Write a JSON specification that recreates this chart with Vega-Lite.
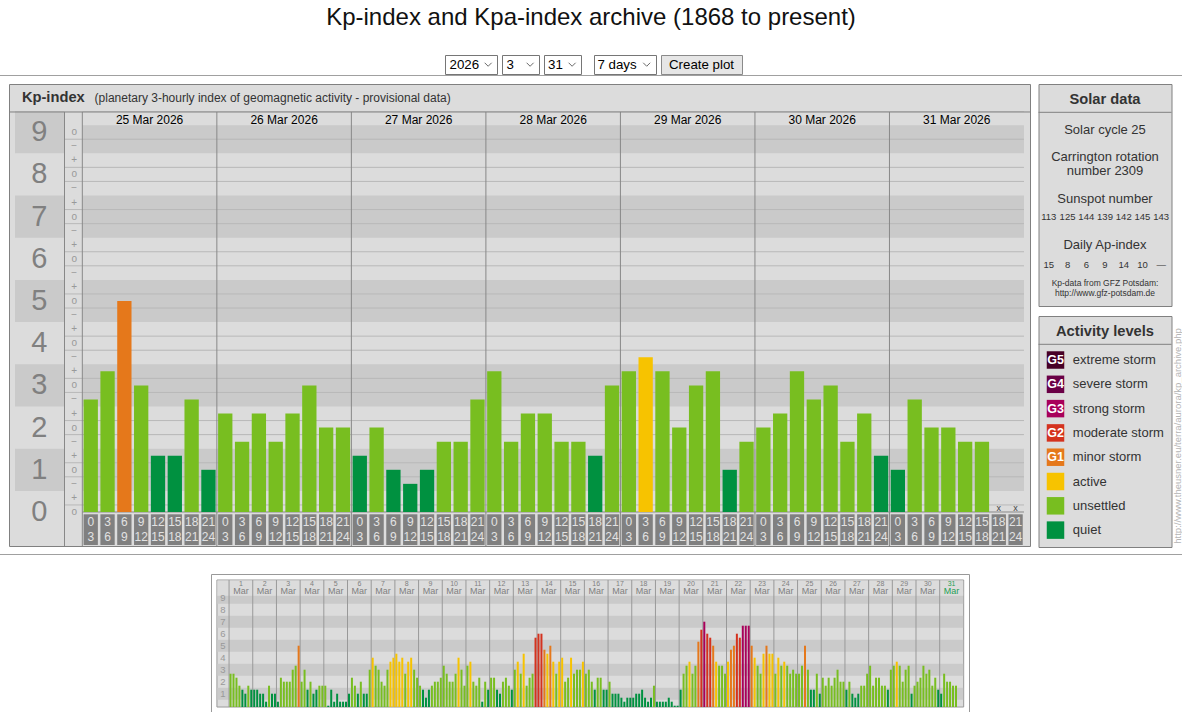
{
"$schema":"https://vega.github.io/schema/vega-lite/v6.json",
"padding":0,
"background":"#ffffff",
"spacing":0,
"config":{"font":"Liberation Sans","view":{"stroke":null},"axis":{"disable":true},"legend":{"disable":true}},
"datasets":{
"kp7":[
{"h":1.5,"a":"0","b":"3","kp":2.667},{"h":4.5,"a":"3","b":"6","kp":3.333},{"h":7.5,"a":"6","b":"9","kp":5},{"h":10.5,"a":"9","b":"12","kp":3},{"h":13.5,"a":"12","b":"15","kp":1.333},{"h":16.5,"a":"15","b":"18","kp":1.333},{"h":19.5,"a":"18","b":"21","kp":2.667},{"h":22.5,"a":"21","b":"24","kp":1},
{"h":25.5,"a":"0","b":"3","kp":2.333},{"h":28.5,"a":"3","b":"6","kp":1.667},{"h":31.5,"a":"6","b":"9","kp":2.333},{"h":34.5,"a":"9","b":"12","kp":1.667},{"h":37.5,"a":"12","b":"15","kp":2.333},{"h":40.5,"a":"15","b":"18","kp":3},{"h":43.5,"a":"18","b":"21","kp":2},{"h":46.5,"a":"21","b":"24","kp":2},
{"h":49.5,"a":"0","b":"3","kp":1.333},{"h":52.5,"a":"3","b":"6","kp":2},{"h":55.5,"a":"6","b":"9","kp":1},{"h":58.5,"a":"9","b":"12","kp":0.667},{"h":61.5,"a":"12","b":"15","kp":1},{"h":64.5,"a":"15","b":"18","kp":1.667},{"h":67.5,"a":"18","b":"21","kp":1.667},{"h":70.5,"a":"21","b":"24","kp":2.667},
{"h":73.5,"a":"0","b":"3","kp":3.333},{"h":76.5,"a":"3","b":"6","kp":1.667},{"h":79.5,"a":"6","b":"9","kp":2.333},{"h":82.5,"a":"9","b":"12","kp":2.333},{"h":85.5,"a":"12","b":"15","kp":1.667},{"h":88.5,"a":"15","b":"18","kp":1.667},{"h":91.5,"a":"18","b":"21","kp":1.333},{"h":94.5,"a":"21","b":"24","kp":3},
{"h":97.5,"a":"0","b":"3","kp":3.333},{"h":100.5,"a":"3","b":"6","kp":3.667},{"h":103.5,"a":"6","b":"9","kp":3.333},{"h":106.5,"a":"9","b":"12","kp":2},{"h":109.5,"a":"12","b":"15","kp":3},{"h":112.5,"a":"15","b":"18","kp":3.333},{"h":115.5,"a":"18","b":"21","kp":1},{"h":118.5,"a":"21","b":"24","kp":1.667},
{"h":121.5,"a":"0","b":"3","kp":2},{"h":124.5,"a":"3","b":"6","kp":2.333},{"h":127.5,"a":"6","b":"9","kp":3.333},{"h":130.5,"a":"9","b":"12","kp":2.667},{"h":133.5,"a":"12","b":"15","kp":3},{"h":136.5,"a":"15","b":"18","kp":1.667},{"h":139.5,"a":"18","b":"21","kp":2.333},{"h":142.5,"a":"21","b":"24","kp":1.333},
{"h":145.5,"a":"0","b":"3","kp":1},{"h":148.5,"a":"3","b":"6","kp":2.667},{"h":151.5,"a":"6","b":"9","kp":2},{"h":154.5,"a":"9","b":"12","kp":2},{"h":157.5,"a":"12","b":"15","kp":1.667},{"h":160.5,"a":"15","b":"18","kp":1.667},{"h":163.5,"a":"18","b":"21","kp":null},{"h":166.5,"a":"21","b":"24","kp":null}
],
"month":[
{"h":1.5,"kp":2.667},{"h":4.5,"kp":2.667},{"h":7.5,"kp":2.333},{"h":10.5,"kp":1.667},{"h":13.5,"kp":1.333},{"h":16.5,"kp":1},{"h":19.5,"kp":1.667},{"h":22.5,"kp":1.333},
{"h":25.5,"kp":1.333},{"h":28.5,"kp":1.333},{"h":31.5,"kp":1},{"h":34.5,"kp":1},{"h":37.5,"kp":0.333},{"h":40.5,"kp":1.667},{"h":43.5,"kp":1},{"h":46.5,"kp":1},
{"h":49.5,"kp":0.333},{"h":52.5,"kp":2.333},{"h":55.5,"kp":2},{"h":58.5,"kp":2},{"h":61.5,"kp":2},{"h":64.5,"kp":3},{"h":67.5,"kp":3.333},{"h":70.5,"kp":5},
{"h":73.5,"kp":2},{"h":76.5,"kp":3},{"h":79.5,"kp":1.333},{"h":82.5,"kp":2},{"h":85.5,"kp":1},{"h":88.5,"kp":1.333},{"h":91.5,"kp":1.667},{"h":94.5,"kp":1.667},
{"h":97.5,"kp":1.667},{"h":100.5,"kp":0},{"h":103.5,"kp":1.333},{"h":106.5,"kp":0.333},{"h":109.5,"kp":1},{"h":112.5,"kp":0.333},{"h":115.5,"kp":0.333},{"h":118.5,"kp":0.333},
{"h":121.5,"kp":1},{"h":124.5,"kp":2.333},{"h":127.5,"kp":1.667},{"h":130.5,"kp":1},{"h":133.5,"kp":2},{"h":136.5,"kp":1},{"h":139.5,"kp":1},{"h":142.5,"kp":3},
{"h":145.5,"kp":4},{"h":148.5,"kp":3.333},{"h":151.5,"kp":3},{"h":154.5,"kp":2},{"h":157.5,"kp":1.667},{"h":160.5,"kp":3},{"h":163.5,"kp":3.667},{"h":166.5,"kp":4},
{"h":169.5,"kp":4.333},{"h":172.5,"kp":3.667},{"h":175.5,"kp":4},{"h":178.5,"kp":2.667},{"h":181.5,"kp":3.667},{"h":184.5,"kp":4},{"h":187.5,"kp":3},{"h":190.5,"kp":2.333},
{"h":193.5,"kp":1.667},{"h":196.5,"kp":1.333},{"h":199.5,"kp":0.667},{"h":202.5,"kp":1.333},{"h":205.5,"kp":1.667},{"h":208.5,"kp":2},{"h":211.5,"kp":2},{"h":214.5,"kp":2.333},
{"h":217.5,"kp":3.333},{"h":220.5,"kp":2.667},{"h":223.5,"kp":2},{"h":226.5,"kp":2},{"h":229.5,"kp":2.667},{"h":232.5,"kp":4},{"h":235.5,"kp":3},{"h":238.5,"kp":1.667},
{"h":241.5,"kp":3.333},{"h":244.5,"kp":3.667},{"h":247.5,"kp":2},{"h":250.5,"kp":1.667},{"h":253.5,"kp":2.333},{"h":256.5,"kp":0.333},{"h":259.5,"kp":2},{"h":262.5,"kp":1.333},
{"h":265.5,"kp":2.333},{"h":268.5,"kp":2.333},{"h":271.5,"kp":1.333},{"h":274.5,"kp":1},{"h":277.5,"kp":2},{"h":280.5,"kp":2.333},{"h":283.5,"kp":1.667},{"h":286.5,"kp":1.333},
{"h":289.5,"kp":3},{"h":292.5,"kp":3.667},{"h":295.5,"kp":2.667},{"h":298.5,"kp":4.333},{"h":301.5,"kp":1.667},{"h":304.5,"kp":2.333},{"h":307.5,"kp":2.667},{"h":310.5,"kp":5.667},
{"h":313.5,"kp":6},{"h":316.5,"kp":6},{"h":319.5,"kp":4.667},{"h":322.5,"kp":4.333},{"h":325.5,"kp":5},{"h":328.5,"kp":3.667},{"h":331.5,"kp":2.667},{"h":334.5,"kp":3.667},
{"h":337.5,"kp":4},{"h":340.5,"kp":2},{"h":343.5,"kp":2.333},{"h":346.5,"kp":4},{"h":349.5,"kp":2.667},{"h":352.5,"kp":3},{"h":355.5,"kp":3},{"h":358.5,"kp":3.667},
{"h":361.5,"kp":2.667},{"h":364.5,"kp":3},{"h":367.5,"kp":2},{"h":370.5,"kp":1.333},{"h":373.5,"kp":2.333},{"h":376.5,"kp":2.333},{"h":379.5,"kp":1.333},{"h":382.5,"kp":1.333},
{"h":385.5,"kp":2},{"h":388.5,"kp":1},{"h":391.5,"kp":1},{"h":394.5,"kp":1},{"h":397.5,"kp":0.667},{"h":400.5,"kp":0.333},{"h":403.5,"kp":0.667},{"h":406.5,"kp":0.667},
{"h":409.5,"kp":0.667},{"h":412.5,"kp":1},{"h":415.5,"kp":1},{"h":418.5,"kp":1.333},{"h":421.5,"kp":0.667},{"h":424.5,"kp":0.333},{"h":427.5,"kp":0.667},{"h":430.5,"kp":1.667},
{"h":433.5,"kp":0.333},{"h":436.5,"kp":0.333},{"h":439.5,"kp":0.333},{"h":442.5,"kp":0.333},{"h":445.5,"kp":0.667},{"h":448.5,"kp":0.333},{"h":451.5,"kp":0},{"h":454.5,"kp":0},
{"h":457.5,"kp":1.333},{"h":460.5,"kp":2.667},{"h":463.5,"kp":3.333},{"h":466.5,"kp":3.667},{"h":469.5,"kp":2.667},{"h":472.5,"kp":3.333},{"h":475.5,"kp":5.333},{"h":478.5,"kp":6.333},
{"h":481.5,"kp":7},{"h":484.5,"kp":6},{"h":487.5,"kp":5.667},{"h":490.5,"kp":5},{"h":493.5,"kp":3.667},{"h":496.5,"kp":3.333},{"h":499.5,"kp":3.333},{"h":502.5,"kp":2.667},
{"h":505.5,"kp":3.667},{"h":508.5,"kp":4.667},{"h":511.5,"kp":5},{"h":514.5,"kp":6},{"h":517.5,"kp":5.667},{"h":520.5,"kp":6.667},{"h":523.5,"kp":6.667},{"h":526.5,"kp":6.667},
{"h":529.5,"kp":5},{"h":532.5,"kp":4},{"h":535.5,"kp":3.333},{"h":538.5,"kp":2.667},{"h":541.5,"kp":4.333},{"h":544.5,"kp":5},{"h":547.5,"kp":4.333},{"h":550.5,"kp":4.333},
{"h":553.5,"kp":2.667},{"h":556.5,"kp":4},{"h":559.5,"kp":3.333},{"h":562.5,"kp":3.667},{"h":565.5,"kp":3.333},{"h":568.5,"kp":2.667},{"h":571.5,"kp":3},{"h":574.5,"kp":2.667},
{"h":577.5,"kp":2.667},{"h":580.5,"kp":3.333},{"h":583.5,"kp":5},{"h":586.5,"kp":3},{"h":589.5,"kp":1.333},{"h":592.5,"kp":1.333},{"h":595.5,"kp":2.667},{"h":598.5,"kp":1},
{"h":601.5,"kp":2.333},{"h":604.5,"kp":1.667},{"h":607.5,"kp":2.333},{"h":610.5,"kp":1.667},{"h":613.5,"kp":2.333},{"h":616.5,"kp":3},{"h":619.5,"kp":2},{"h":622.5,"kp":2},
{"h":625.5,"kp":1.333},{"h":628.5,"kp":2},{"h":631.5,"kp":1},{"h":634.5,"kp":0.667},{"h":637.5,"kp":1},{"h":640.5,"kp":1.667},{"h":643.5,"kp":1.667},{"h":646.5,"kp":2.667},
{"h":649.5,"kp":3.333},{"h":652.5,"kp":1.667},{"h":655.5,"kp":2.333},{"h":658.5,"kp":2.333},{"h":661.5,"kp":1.667},{"h":664.5,"kp":1.667},{"h":667.5,"kp":1.333},{"h":670.5,"kp":3},
{"h":673.5,"kp":3.333},{"h":676.5,"kp":3.667},{"h":679.5,"kp":3.333},{"h":682.5,"kp":2},{"h":685.5,"kp":3},{"h":688.5,"kp":3.333},{"h":691.5,"kp":1},{"h":694.5,"kp":1.667},
{"h":697.5,"kp":2},{"h":700.5,"kp":2.333},{"h":703.5,"kp":3.333},{"h":706.5,"kp":2.667},{"h":709.5,"kp":3},{"h":712.5,"kp":1.667},{"h":715.5,"kp":2.333},{"h":718.5,"kp":1.333},
{"h":721.5,"kp":1},{"h":724.5,"kp":2.667},{"h":727.5,"kp":2},{"h":730.5,"kp":2},{"h":733.5,"kp":1.667},{"h":736.5,"kp":1.667}
],
"bands":[{"lo":0.5,"hi":1.5},{"lo":2.5,"hi":3.5},{"lo":4.5,"hi":5.5},{"lo":6.5,"hi":7.5},{"lo":8.5,"hi":9.5}],
"grid":[{"v":0.1667},{"v":0.8333},{"v":1.1667},{"v":1.8333},{"v":2.1667},{"v":2.8333},{"v":3.1667},{"v":3.8333},{"v":4.1667},{"v":4.8333},{"v":5.1667},{"v":5.8333},{"v":6.1667},{"v":6.8333},{"v":7.1667},{"v":7.8333},{"v":8.1667},{"v":8.8333}],
"digits":[{"k":0},{"k":1},{"k":2},{"k":3},{"k":4},{"k":5},{"k":6},{"k":7},{"k":8},{"k":9}],
"sublabels":[{"v":9,"s":"o"},{"v":8.667,"s":"−"},{"v":8.333,"s":"+"},{"v":8,"s":"o"},{"v":7.667,"s":"−"},{"v":7.333,"s":"+"},{"v":7,"s":"o"},{"v":6.667,"s":"−"},{"v":6.333,"s":"+"},{"v":6,"s":"o"},{"v":5.667,"s":"−"},{"v":5.333,"s":"+"},{"v":5,"s":"o"},{"v":4.667,"s":"−"},{"v":4.333,"s":"+"},{"v":4,"s":"o"},{"v":3.667,"s":"−"},{"v":3.333,"s":"+"},{"v":3,"s":"o"},{"v":2.667,"s":"−"},{"v":2.333,"s":"+"},{"v":2,"s":"o"},{"v":1.667,"s":"−"},{"v":1.333,"s":"+"},{"v":1,"s":"o"},{"v":0.667,"s":"−"},{"v":0.333,"s":"+"},{"v":0,"s":"o"}],
"days7":[{"label":"25 Mar 2026","start":0,"mid":12},{"label":"26 Mar 2026","start":24,"mid":36},{"label":"27 Mar 2026","start":48,"mid":60},{"label":"28 Mar 2026","start":72,"mid":84},{"label":"29 Mar 2026","start":96,"mid":108},{"label":"30 Mar 2026","start":120,"mid":132},{"label":"31 Mar 2026","start":144,"mid":156}],
"mdays":[{"d":1,"start":0,"mid":12},{"d":2,"start":24,"mid":36},{"d":3,"start":48,"mid":60},{"d":4,"start":72,"mid":84},{"d":5,"start":96,"mid":108},{"d":6,"start":120,"mid":132},{"d":7,"start":144,"mid":156},{"d":8,"start":168,"mid":180},{"d":9,"start":192,"mid":204},{"d":10,"start":216,"mid":228},{"d":11,"start":240,"mid":252},{"d":12,"start":264,"mid":276},{"d":13,"start":288,"mid":300},{"d":14,"start":312,"mid":324},{"d":15,"start":336,"mid":348},{"d":16,"start":360,"mid":372},{"d":17,"start":384,"mid":396},{"d":18,"start":408,"mid":420},{"d":19,"start":432,"mid":444},{"d":20,"start":456,"mid":468},{"d":21,"start":480,"mid":492},{"d":22,"start":504,"mid":516},{"d":23,"start":528,"mid":540},{"d":24,"start":552,"mid":564},{"d":25,"start":576,"mid":588},{"d":26,"start":600,"mid":612},{"d":27,"start":624,"mid":636},{"d":28,"start":648,"mid":660},{"d":29,"start":672,"mid":684},{"d":30,"start":696,"mid":708},{"d":31,"start":720,"mid":732}],
"solar":[{"day":"25","ssn":113,"ap":15},{"day":"26","ssn":125,"ap":8},{"day":"27","ssn":144,"ap":6},{"day":"28","ssn":139,"ap":9},{"day":"29","ssn":142,"ap":14},{"day":"30","ssn":145,"ap":10},{"day":"31","ssn":143,"ap":null}],
"levels":[{"g":"G5","name":"extreme storm","kp":9,"idx":0},{"g":"G4","name":"severe storm","kp":8,"idx":1},{"g":"G3","name":"strong storm","kp":7,"idx":2},{"g":"G2","name":"moderate storm","kp":6,"idx":3},{"g":"G1","name":"minor storm","kp":5,"idx":4},{"g":"","name":"active","kp":4,"idx":5},{"g":"","name":"unsettled","kp":2.667,"idx":6},{"g":"","name":"quiet","kp":1,"idx":7}]
},
"vconcat":[
{"width":1182,"height":36,"data":{"values":[{}]},"mark":{"type":"text","fontSize":24,"color":"#111111"},"encoding":{"text":{"value":"Kp-index and Kpa-index archive (1868 to present)"}}},
{"width":1,"height":18,"data":{"values":[]},"mark":"point"},
{"hconcat":[
 {"width":433,"height":1,"data":{"values":[]},"mark":"point"},
 {"hconcat":[
  {"width":52,"height":19,"view":{"fill":"#ffffff","stroke":"#767676"},"data":{"values":[{"t":"2026"}]},"layer":[
   {"mark":{"type":"text","align":"left","fontSize":13.3,"color":"#000000"},"encoding":{"x":{"datum":0.087,"type":"quantitative","scale":{"domain":[0,1],"nice":false,"zero":false}},"text":{"field":"t","type":"nominal"}}},
   {"mark":{"type":"point","shape":"M-1,-0.5L0,0.5L1,-0.5","size":49,"filled":false,"stroke":"#6a6a6a","strokeWidth":1,"opacity":1},"encoding":{"x":{"datum":0.83}}}]},
  {"width":37,"height":19,"view":{"fill":"#ffffff","stroke":"#767676"},"data":{"values":[{"t":"3"}]},"layer":[
   {"mark":{"type":"text","align":"left","fontSize":13.3,"color":"#000000"},"encoding":{"x":{"datum":0.12,"type":"quantitative","scale":{"domain":[0,1],"nice":false,"zero":false}},"text":{"field":"t","type":"nominal"}}},
   {"mark":{"type":"point","shape":"M-1,-0.5L0,0.5L1,-0.5","size":49,"filled":false,"stroke":"#6a6a6a","strokeWidth":1,"opacity":1},"encoding":{"x":{"datum":0.76}}}]},
  {"width":37,"height":19,"view":{"fill":"#ffffff","stroke":"#767676"},"data":{"values":[{"t":"31"}]},"layer":[
   {"mark":{"type":"text","align":"left","fontSize":13.3,"color":"#000000"},"encoding":{"x":{"datum":0.108,"type":"quantitative","scale":{"domain":[0,1],"nice":false,"zero":false}},"text":{"field":"t","type":"nominal"}}},
   {"mark":{"type":"point","shape":"M-1,-0.5L0,0.5L1,-0.5","size":49,"filled":false,"stroke":"#6a6a6a","strokeWidth":1,"opacity":1},"encoding":{"x":{"datum":0.76}}}]}
 ],"spacing":3},
 {"hconcat":[
  {"width":62,"height":19,"view":{"fill":"#ffffff","stroke":"#767676"},"data":{"values":[{"t":"7 days"}]},"layer":[
   {"mark":{"type":"text","align":"left","fontSize":13.3,"color":"#000000"},"encoding":{"x":{"datum":0.056,"type":"quantitative","scale":{"domain":[0,1],"nice":false,"zero":false}},"text":{"field":"t","type":"nominal"}}},
   {"mark":{"type":"point","shape":"M-1,-0.5L0,0.5L1,-0.5","size":49,"filled":false,"stroke":"#6a6a6a","strokeWidth":1,"opacity":1},"encoding":{"x":{"datum":0.85}}}]},
  {"width":81,"height":19,"view":{"fill":"#e6e6e6","stroke":"#8a8a8a"},"data":{"values":[{"t":"Create plot"}]},"mark":{"type":"text","fontSize":13.3,"color":"#000000"},"encoding":{"text":{"field":"t","type":"nominal"}}}
 ],"spacing":3}
],"spacing":11},
{"width":1182,"height":1,"view":{"fill":"#a0a0a0"},"data":{"values":[]},"mark":"point"},
{"width":1,"height":7,"data":{"values":[]},"mark":"point"},
{"hconcat":[
 {"width":8,"height":1,"data":{"values":[]},"mark":"point"},
 {"hconcat":[
 {"width":1021,"height":462,"view":{"fill":"#dcdcdc","stroke":"#808080"},"data":{"values":[{}]},
  "layer":[
   {"data":{"name":"bands"},"mark":{"type":"rect","color":"#cacaca"},"encoding":{
     "x":{"datum":-12.01,"type":"quantitative","scale":{"domain":[-12.19,168.18],"nice":false,"zero":false}},
     "x2":{"datum":-3.18},
     "y":{"field":"lo","type":"quantitative","scale":{"domain":[-0.806,10.142],"nice":false,"zero":false}},
     "y2":{"field":"hi"}}},
   {"data":{"name":"bands"},"mark":{"type":"rect","color":"#cacaca"},"encoding":{"x":{"datum":0},"x2":{"datum":168},"y":{"field":"lo","type":"quantitative"},"y2":{"field":"hi"}}},
   {"mark":{"type":"rect","color":"#dcdcdc"},"encoding":{"x":{"datum":-3.18},"x2":{"datum":168},"y":{"datum":9.1667},"y2":{"datum":9.479}}},
   {"data":{"name":"grid"},"mark":{"type":"rule","color":"#b8b8b8"},"encoding":{"x":{"datum":-3.18},"x2":{"datum":168},"y":{"field":"v","type":"quantitative"}}},
   {"mark":{"type":"rule","color":"#888888"},"encoding":{"x":{"datum":0},"x2":{"datum":168},"y":{"datum":0}}},
   {"data":{"name":"days7"},"mark":{"type":"rule","color":"#888888"},"encoding":{"x":{"field":"start","type":"quantitative"},"y":{"datum":-0.806},"y2":{"datum":9.479}}},
   {"mark":{"type":"rule","color":"#888888"},"encoding":{"x":{"datum":-3.18},"y":{"datum":-0.806},"y2":{"datum":9.479}}},
   {"mark":{"type":"rule","color":"#808080"},"encoding":{"y":{"datum":9.479}}},
   {"data":{"name":"digits"},"mark":{"type":"text","fontSize":29,"color":"#808080"},"encoding":{"x":{"datum":-7.68},"y":{"field":"k","type":"quantitative"},"text":{"field":"k","type":"nominal"}}},
   {"data":{"name":"sublabels"},"mark":{"type":"text","fontSize":10,"color":"#999999"},"encoding":{"x":{"datum":-1.45},"y":{"field":"v","type":"quantitative"},"text":{"field":"s","type":"nominal"}}},
   {"mark":{"type":"text","align":"left","fontSize":14.7,"fontWeight":"bold","color":"#333333"},"encoding":{"x":{"datum":-10.78},"y":{"datum":9.81},"text":{"value":"Kp-index"}}},
   {"mark":{"type":"text","align":"left","fontSize":12,"color":"#333333"},"encoding":{"x":{"datum":2.18},"y":{"datum":9.81},"text":{"value":"(planetary 3-hourly index of geomagnetic activity - provisional data)"}}},
   {"data":{"name":"days7"},"mark":{"type":"text","fontSize":12,"color":"#000000"},"encoding":{"x":{"field":"mid","type":"quantitative"},"y":{"datum":9.3},"text":{"field":"label","type":"nominal"}}},
   {"data":{"name":"kp7"},"transform":[{"filter":"isValid(datum.kp)"}],"mark":{"type":"bar","width":14.3},"encoding":{"x":{"field":"h","type":"quantitative"},"y":{"field":"kp","type":"quantitative"},"y2":{"datum":0},"color":{"field":"kp","type":"quantitative","scale":{"type":"threshold","domain":[1.5,3.5,4.5,5.5,6.5,7.5,8.5],"range":["#009140","#78be20","#f7c300","#e5781b","#d4321e","#a8005a","#6a0046","#480027"]}}}},
   {"data":{"name":"kp7"},"mark":{"type":"bar","width":14.3,"color":"#808080"},"encoding":{"x":{"field":"h","type":"quantitative"},"y":{"datum":-0.055},"y2":{"datum":-0.782}}},
   {"data":{"name":"kp7"},"mark":{"type":"text","fontSize":12,"color":"#e2e2e2"},"encoding":{"x":{"field":"h","type":"quantitative"},"y":{"datum":-0.242},"text":{"field":"a","type":"nominal"}}},
   {"data":{"name":"kp7"},"mark":{"type":"text","fontSize":12,"color":"#e2e2e2"},"encoding":{"x":{"field":"h","type":"quantitative"},"y":{"datum":-0.581},"text":{"field":"b","type":"nominal"}}},
   {"data":{"name":"kp7"},"transform":[{"filter":"!isValid(datum.kp)"}],"mark":{"type":"text","fontSize":9,"color":"#444444"},"encoding":{"x":{"field":"h","type":"quantitative"},"y":{"datum":0.1},"text":{"value":"x"}}}
  ]},
 {"hconcat":[
  {"vconcat":[
   {"width":133,"height":222,"view":{"fill":"#dcdcdc","stroke":"#808080"},"data":{"values":[{}]},"layer":[
    {"mark":{"type":"text","fontSize":14.7,"fontWeight":"bold","color":"#333333"},"encoding":{"y":{"datum":15.5,"type":"quantitative","scale":{"domain":[0,222],"reverse":true,"nice":false,"zero":false}},"text":{"value":"Solar data"}}},
    {"mark":{"type":"rule","color":"#808080"},"encoding":{"y":{"datum":28.3}}},
    {"mark":{"type":"text","fontSize":13,"color":"#333333"},"encoding":{"y":{"datum":46.3},"text":{"value":"Solar cycle 25"}}},
    {"mark":{"type":"text","fontSize":13,"color":"#333333"},"encoding":{"y":{"datum":72.6},"text":{"value":"Carrington rotation"}}},
    {"mark":{"type":"text","fontSize":13,"color":"#333333"},"encoding":{"y":{"datum":87.3},"text":{"value":"number 2309"}}},
    {"mark":{"type":"text","fontSize":13,"color":"#333333"},"encoding":{"y":{"datum":115.3},"text":{"value":"Sunspot number"}}},
    {"data":{"name":"solar"},"mark":{"type":"text","fontSize":9.5,"color":"#333333"},"encoding":{"x":{"field":"day","type":"ordinal","scale":{"type":"point","padding":0.55}},"y":{"datum":133.2},"text":{"field":"ssn","type":"nominal"}}},
    {"mark":{"type":"text","fontSize":13,"color":"#333333"},"encoding":{"y":{"datum":161.1},"text":{"value":"Daily Ap-index"}}},
    {"data":{"name":"solar"},"mark":{"type":"text","fontSize":9.5,"color":"#333333"},"encoding":{"x":{"field":"day","type":"ordinal"},"y":{"datum":180.7},"text":{"condition":{"test":"!isValid(datum.ap)","value":"—"},"field":"ap","type":"nominal"}}},
    {"mark":{"type":"text","fontSize":8.5,"color":"#333333"},"encoding":{"y":{"datum":199},"text":{"value":"Kp-data from  GFZ Potsdam:"}}},
    {"mark":{"type":"text","fontSize":8.5,"color":"#333333"},"encoding":{"y":{"datum":208.7},"text":{"value":"http://www.gfz-potsdam.de"}}}
   ]},
   {"width":133,"height":231,"view":{"fill":"#dcdcdc","stroke":"#808080"},"data":{"values":[{}]},"layer":[
    {"mark":{"type":"text","fontSize":14.7,"fontWeight":"bold","color":"#333333"},"encoding":{"y":{"datum":-1.15,"type":"quantitative","scale":{"domain":[-1.811,7.695],"reverse":true,"nice":false,"zero":false}},"text":{"value":"Activity levels"}}},
    {"mark":{"type":"rule","color":"#808080"},"encoding":{"y":{"datum":-0.646}}},
    {"data":{"name":"levels"},"mark":{"type":"point","shape":"square","size":306,"filled":true,"opacity":1},"encoding":{"x":{"datum":17,"type":"quantitative","scale":{"domain":[0,133],"nice":false,"zero":false}},"y":{"field":"idx","type":"quantitative"},"color":{"field":"kp","type":"quantitative","scale":{"type":"threshold","domain":[1.5,3.5,4.5,5.5,6.5,7.5,8.5],"range":["#009140","#78be20","#f7c300","#e5781b","#d4321e","#a8005a","#6a0046","#480027"]}}}},
    {"data":{"name":"levels"},"transform":[{"filter":"datum.g !== ''"}],"mark":{"type":"text","fontSize":12.5,"fontWeight":"bold","color":"#ffffff"},"encoding":{"x":{"datum":17},"y":{"field":"idx","type":"quantitative"},"text":{"field":"g","type":"nominal"}}},
    {"data":{"name":"levels"},"mark":{"type":"text","align":"left","fontSize":13,"color":"#333333"},"encoding":{"x":{"datum":34.3},"y":{"field":"idx","type":"quantitative"},"text":{"field":"name","type":"nominal"}}}
   ]}
  ],"spacing":8},
  {"width":9,"height":462,"data":{"values":[{}]},"mark":{"type":"text","angle":270,"align":"left","baseline":"middle","fontSize":9.5,"color":"#b4b4b4"},"encoding":{"y":{"datum":0.005,"type":"quantitative","scale":{"domain":[0,1],"nice":false,"zero":false}},"text":{"value":"http://www.theusner.eu/terra/aurora/kp_archive.php"}}}
 ],"spacing":0}
 ],"spacing":6.5}
],"spacing":0},
{"width":1,"height":6,"data":{"values":[]},"mark":"point"},
{"width":1182,"height":1,"view":{"fill":"#a0a0a0"},"data":{"values":[]},"mark":"point"},
{"width":1,"height":19,"data":{"values":[]},"mark":"point"},
{"hconcat":[
 {"width":206,"height":1,"data":{"values":[]},"mark":"point"},
 {"width":769,"height":139,"data":{"values":[{}]},"layer":[
 {"mark":{"type":"rect","fill":"#dcdcdc","stroke":"#999999","strokeWidth":1},"encoding":{"x":{"datum":-12.3,"type":"quantitative","scale":{"domain":[-18.3,750.7],"nice":false,"zero":false}},"x2":{"datum":744.3},"y":{"datum":-0.11,"type":"quantitative","scale":{"domain":[-0.608,10.975],"nice":false,"zero":false}},"y2":{"datum":10.475}}},
 {"data":{"name":"bands"},"mark":{"type":"rect","color":"#cacaca"},"encoding":{"x":{"datum":-11.8},"x2":{"datum":743.8},"y":{"field":"lo","type":"quantitative"},"y2":{"field":"hi"}}},
 {"mark":{"type":"rect","color":"#dcdcdc"},"encoding":{"x":{"datum":-11.8},"x2":{"datum":743.8},"y":{"datum":9.1667},"y2":{"datum":10.43}}},
 {"mark":{"type":"rule","color":"#999999"},"encoding":{"x":{"datum":-17.8},"y":{"datum":-0.55},"y2":{"datum":10.933}}},
 {"mark":{"type":"rule","color":"#999999"},"encoding":{"x":{"datum":750.2},"y":{"datum":-0.55},"y2":{"datum":10.933}}},
 {"mark":{"type":"rule","color":"#999999"},"encoding":{"x":{"datum":-17.8},"x2":{"datum":750.2},"y":{"datum":10.933}}},
 {"data":{"name":"mdays"},"mark":{"type":"rule","color":"#999999"},"encoding":{"x":{"field":"start","type":"quantitative"},"y":{"datum":-0.11},"y2":{"datum":10.475}}},
 {"data":{"name":"month"},"transform":[{"filter":"isValid(datum.kp)"}],"mark":{"type":"bar","width":2},"encoding":{"x":{"field":"h","type":"quantitative"},"y":{"field":"kp","type":"quantitative"},"y2":{"datum":-0.11},"color":{"field":"kp","type":"quantitative","scale":{"type":"threshold","domain":[1.5,3.5,4.5,5.5,6.5,7.5,8.5],"range":["#009140","#78be20","#f7c300","#e5781b","#d4321e","#a8005a","#6a0046","#480027"]}}}},
 {"data":{"name":"mdays"},"mark":{"type":"text","fontSize":7},"encoding":{"x":{"field":"mid","type":"quantitative"},"y":{"datum":10.14},"text":{"field":"d","type":"nominal"},"color":{"condition":{"test":"datum.d === 31","value":"#1f9e55"},"value":"#808080"}}},
 {"data":{"name":"mdays"},"mark":{"type":"text","fontSize":9},"encoding":{"x":{"field":"mid","type":"quantitative"},"y":{"datum":9.55},"text":{"value":"Mar"},"color":{"condition":{"test":"datum.d === 31","value":"#1f9e55"},"value":"#808080"}}},
 {"data":{"name":"digits"},"transform":[{"filter":"datum.k > 0"}],"mark":{"type":"text","fontSize":9.5,"color":"#999999"},"encoding":{"x":{"datum":-6.3},"y":{"field":"k","type":"quantitative"},"text":{"field":"k","type":"nominal"}}}
 ]}
],"spacing":0}
]
}
